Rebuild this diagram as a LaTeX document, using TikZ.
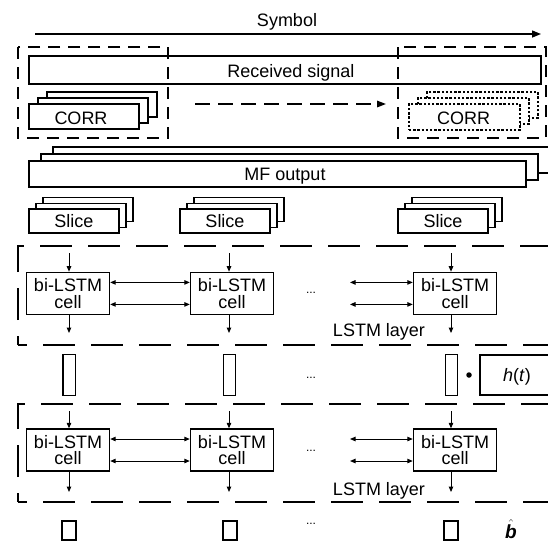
\documentclass[tikz,border=0pt]{standalone}
\usepackage{fontspec}
\setmainfont{Liberation Sans}
\usetikzlibrary{arrows.meta}
\begin{document}
\begin{tikzpicture}[x=1pt,y=-1pt,
  lbl/.style={font=\fontsize{18}{18}\selectfont, inner sep=0pt, anchor=base},
  back/.style={draw, line width=1.4pt, fill=white, inner sep=0pt},
  box/.style={back, text height=13pt, text depth=0pt, font=\fontsize{18}{18}\selectfont},
  dback/.style={draw, line width=1.3pt, dash pattern=on 2.4pt off 1.8pt, fill=white, inner sep=0pt},
  corrsz/.style={minimum width=110pt, minimum height=25pt},
  mfsz/.style={minimum width=497pt, minimum height=26pt},
  slsz/.style={minimum width=90pt, minimum height=24pt},
  cellbox/.style={draw, line width=1.4pt, fill=white, inner sep=0pt, align=center,
     minimum width=83pt, minimum height=42pt, font=\fontsize{18}{16.5}\selectfont},
  grp/.style={line width=1.5pt, dash pattern=on 12pt off 8pt},
  layer/.style={line width=1.5pt, dash pattern=on 32pt off 16pt, dash phase=23pt},
  arr/.style={line width=1pt, -{Triangle[length=5.5pt,width=4.5pt]}},
  darr/.style={line width=1pt, {Triangle[length=5.5pt,width=4.5pt]}-{Triangle[length=5.5pt,width=4.5pt]}},
  vec/.style={draw, line width=1.4pt, inner sep=0pt, minimum width=12.5pt, minimum height=41pt},
  outv/.style={draw, line width=1.4pt, inner sep=0pt, minimum width=14pt, minimum height=19pt},
  dots/.style={font=\fontsize{12}{12}\selectfont, inner sep=0pt, anchor=base},
]
\useasboundingbox (0,0) rectangle (548,542);
\clip (0,0) rectangle (548,542);

% Symbol axis
\node[lbl] (sym) at (287,26) {Symbol};
\coordinate (symA) at (35,34);
\coordinate (symB) at (541,34);
\draw[line width=1.4pt, -{Triangle[length=9pt,width=7pt]}] (symA) -- (symB);

% Received signal
\node[draw, line width=1.5pt, inner sep=0pt, minimum width=512pt, minimum height=28pt] (rx) at (285,70) {};
\node[lbl] (rxt) at (291,77.3) {Received signal};

% group frames
\draw[grp] (18,47) rectangle (168,138);
\draw[grp] (398,47) rectangle (546,138);

% CORR stack (solid)
\node[back, corrsz] (ca3) at (102,104.5) {};
\node[back, corrsz] (ca2) at (93,110.5) {};
\node[back, corrsz] (ca1) at (84,116.5) {};
\node[lbl] (cat) at (81,124) {CORR};

% CORR stack (dotted)
\node[dback, minimum width=111pt, minimum height=26pt] (cb3) at (482.5,105) {};
\node[dback, minimum width=111pt, minimum height=26pt] (cb2) at (473.5,111) {};
\node[dback, minimum width=111pt, minimum height=26pt] (cb1) at (464.5,117) {};
\node[lbl] (cbt) at (463.5,124) {CORR};

% dashed shift arrow
\coordinate (da) at (195,104);
\coordinate (db) at (386,104);
\draw[line width=1.5pt, dash pattern=on 15pt off 8pt, -{Triangle[length=9pt,width=6.5pt]}] (da) -- (db);

% MF output stack
\node[back, mfsz] (mf3) at (301.5,160) {};
\node[back, mfsz] (mf2) at (289.5,167) {};
\node[back, mfsz] (mf1) at (277.5,174) {};
\node[lbl] (mft) at (285,180) {MF output};

% Slices
\foreach \cx/\n in {74/1,225/2,443/3}{
  \node[back, slsz] (s\n c) at (\cx+14,209.6) {};
  \node[back, slsz] (s\n b) at (\cx+7,215.3) {};
  \node[box, slsz] (s\n) at (\cx,221) {Slice};
}

% LSTM layer frames
\draw[layer] (18,345) -- (18,246) -- (600,246);
\draw[layer] (18,345) -- (600,345);
\draw[layer] (18,502) -- (18,404) -- (600,404);
\draw[layer] (18,502) -- (600,502);

% layer 1 cells
\node[cellbox] (c11) at (68,293.4) {bi-LSTM\\cell};
\node[cellbox] (c12) at (232,293.4) {bi-LSTM\\cell};
\node[cellbox] (c13) at (455,293.4) {bi-LSTM\\cell};
% layer 2 cells
\node[cellbox] (c21) at (68,450) {bi-LSTM\\cell};
\node[cellbox] (c22) at (232,450) {bi-LSTM\\cell};
\node[cellbox] (c23) at (455,450) {bi-LSTM\\cell};

% vertical arrows
\foreach \x/\n in {69/1,229/2,451/3}{
  \coordinate (i1\n) at (\x,253);
  \coordinate (o1\n) at (\x,333);
  \draw[arr] (i1\n) -- (i1\n |- c1\n.north);
  \draw[arr] (o1\n |- c1\n.south) -- (o1\n);
  \coordinate (i2\n) at (\x,411);
  \coordinate (o2\n) at (\x,492);
  \draw[arr] (i2\n) -- (i2\n |- c2\n.north);
  \draw[arr] (o2\n |- c2\n.south) -- (o2\n);
}

% horizontal arrows
\foreach \l in {1,2}{
  \draw[darr] ([yshift=11pt]c\l1.east) -- ([yshift=11pt]c\l2.west);
  \draw[darr] ([yshift=-11pt]c\l1.east) -- ([yshift=-11pt]c\l2.west);
}
\coordinate (h1a) at (350,282.4);
\coordinate (h1b) at (350,304.4);
\coordinate (h2a) at (350,439);
\coordinate (h2b) at (350,461);
\draw[darr] (h1a) -- (h1a -| c13.west);
\draw[darr] (h1b) -- (h1b -| c13.west);
\draw[darr] (h2a) -- (h2a -| c23.west);
\draw[darr] (h2b) -- (h2b -| c23.west);

% dots
\node[dots] (d1) at (311,293) {...};
\node[dots] (d2) at (311,378) {...};
\node[dots] (d3) at (311,451) {...};
\node[dots] (d4) at (311,524) {...};

% layer labels
\node[lbl] (ll1) at (379,336) {LSTM layer};
\node[lbl] (ll2) at (379,495) {LSTM layer};

% hidden vectors
\node[vec] (v1) at (69.3,375) {};
\node[vec] (v2) at (229.5,375) {};
\node[vec] (v3) at (451.5,375) {};
\node[circle, fill, inner sep=0pt, minimum size=5.5pt] (mul) at (469,375) {};
\node[draw, line width=1.3pt, inner sep=0pt, minimum width=74pt, minimum height=40pt,
      text height=13pt, text depth=0pt, font=\fontsize{18}{18}\selectfont] (ht) at (517,375) {\textit{h}(\textit{t})};

% outputs
\node[outv] (b1) at (69,530.5) {};
\node[outv] (b2) at (230,530.5) {};
\node[outv] (b3) at (451,530.5) {};
\node[inner sep=0pt, anchor=base, font=\fontsize{19}{19}\selectfont] (bh) at (511,538) {$\hat{\mbox{\bfseries\itshape b}}$};
\end{tikzpicture}
\end{document}
